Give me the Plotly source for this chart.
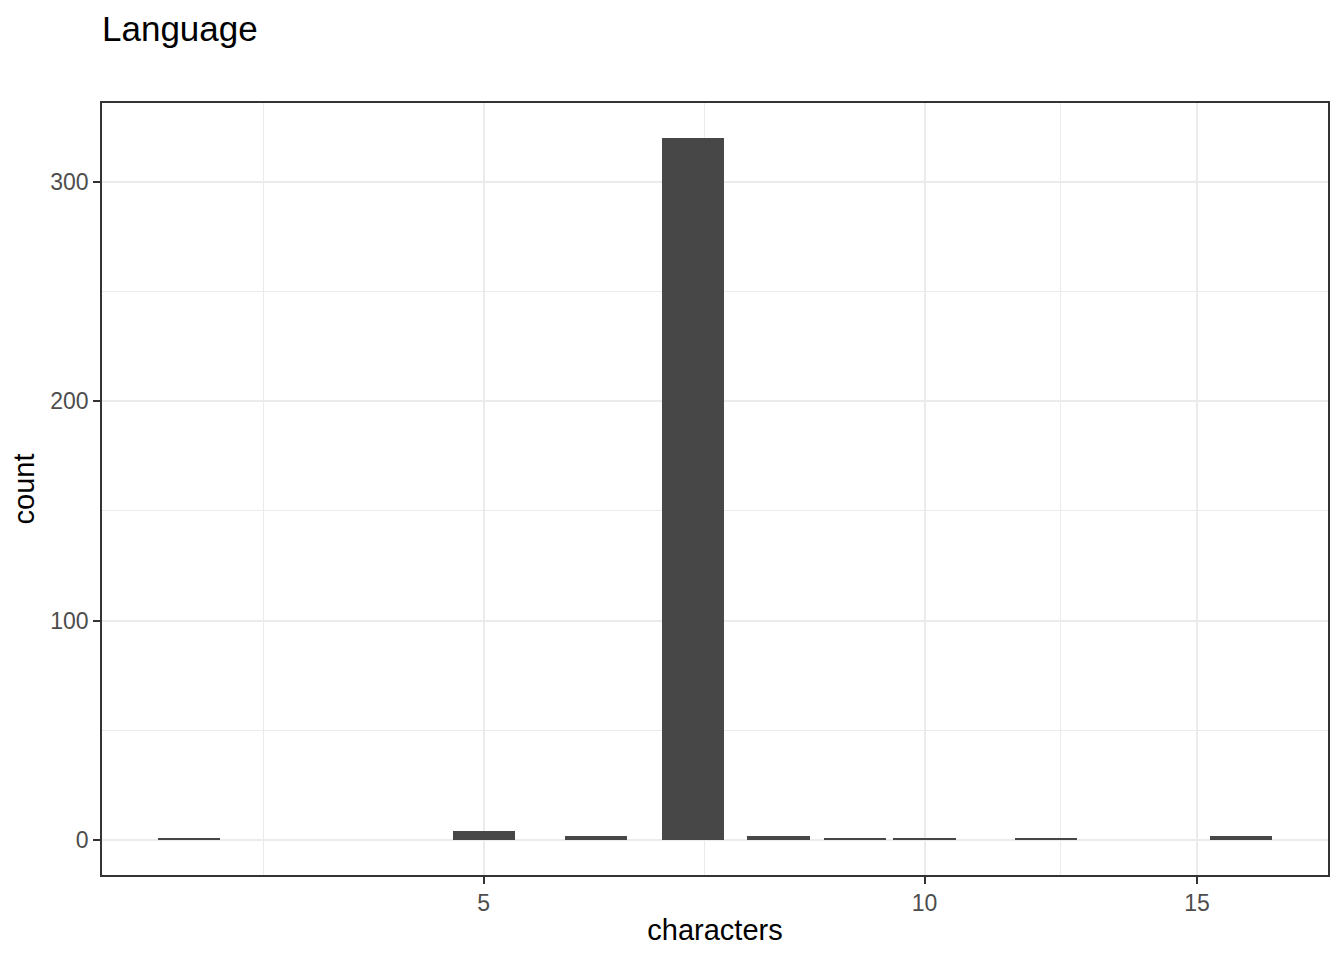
import numpy as np
import plotly.graph_objects as go

# number of characters per entry and how many entries have that length
characters = [3, 5, 6, 7, 8, 9, 10, 12, 16]
counts = [1, 4, 2, 320, 2, 1, 1, 1, 2]

x_breaks = [5, 10, 15]
y_breaks = [0, 100, 200, 300]
y_minor = [50, 150, 250]

# log1p scale on the x axis (like ggplot's trans = "log1p")
def log1p10(v):
    return np.log10(np.asarray(v, dtype=float) + 1)

xt = log1p10(characters)
bar_w = 0.9 * np.min(np.diff(np.sort(xt)))

bt = log1p10(x_breaks)
step = bt[1] - bt[0]
ext = np.concatenate([[bt[0] - step], bt, [bt[-1] + step]])
x_minor = list((ext[:-1] + ext[1:]) / 2)

lo, hi = xt.min() - bar_w / 2, xt.max() + bar_w / 2
pad = 0.05 * (hi - lo)
x_range = [lo - pad, hi + pad]
ymax = max(counts)
y_range = [-0.05 * ymax, 1.05 * ymax]

grid = '#EBEBEB'
ink = '#333333'
font = 'Liberation Sans, Arial, sans-serif'

# page has an 8px body margin, so the figure is 8px smaller than the window
W, H = 1336, 952

fig = go.Figure()
fig.add_trace(go.Bar(x=xt, y=counts, width=bar_w, marker=dict(color='#474747', line=dict(width=0)),
                     hovertext=[str(c) for c in characters], showlegend=False))

fig.update_layout(
    width=W, height=H,
    margin=dict(l=94, r=16, t=95, b=85),
    paper_bgcolor='white', plot_bgcolor='white',
    font=dict(family=font, color='black'),
    title=dict(text='Language', x=94 / W, xanchor='left', y=1 - 21 / H, yanchor='middle',
               font=dict(size=35, family=font, color='black')),
    bargap=0,
)
fig.update_xaxes(
    range=x_range, tickmode='array', tickvals=list(bt), ticktext=[str(b) for b in x_breaks],
    showgrid=True, gridcolor=grid, gridwidth=2, zeroline=False,
    minor=dict(tickvals=x_minor, showgrid=True, gridcolor=grid, gridwidth=1, ticks=''),
    showline=True, linecolor=ink, linewidth=1.5, mirror=True,
    ticks='outside', ticklen=7, tickcolor=ink, tickwidth=2,
    tickfont=dict(size=23, color='#4D4D4D', family=font),
    title=dict(text='characters', font=dict(size=29, color='black', family=font), standoff=4),
)
fig.update_yaxes(
    range=y_range, tickmode='array', tickvals=y_breaks, ticktext=[str(b) for b in y_breaks],
    showgrid=True, gridcolor=grid, gridwidth=2, zeroline=False,
    minor=dict(tickvals=y_minor, showgrid=True, gridcolor=grid, gridwidth=1, ticks=''),
    showline=True, linecolor=ink, linewidth=1.5, mirror=True,
    ticks='outside', ticklen=7, tickcolor=ink, tickwidth=2,
    tickfont=dict(size=23, color='#4D4D4D', family=font),
    title=dict(text='count', font=dict(size=29, color='black', family=font), standoff=10),
)

fig.write_html('out.html')
